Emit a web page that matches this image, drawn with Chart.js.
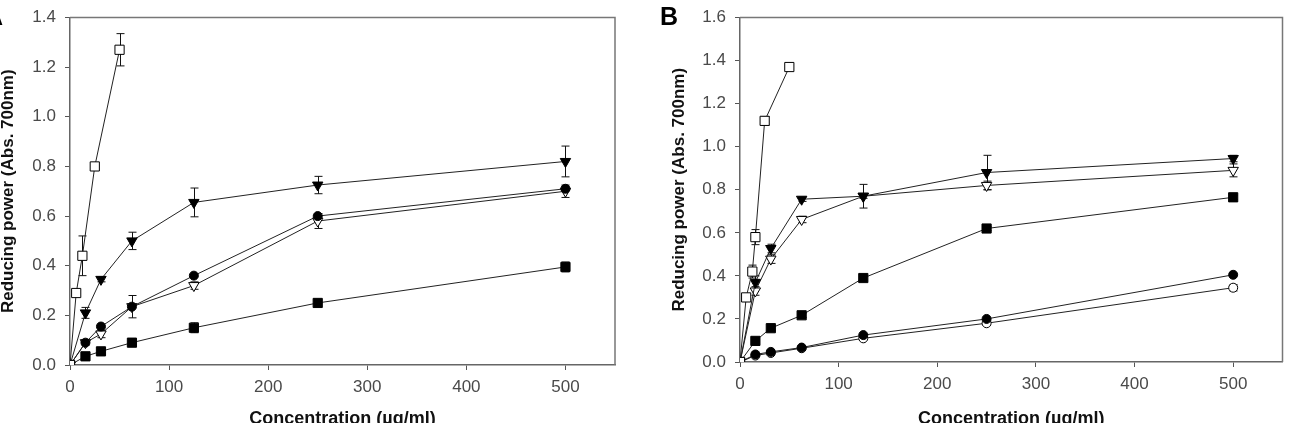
<!DOCTYPE html>
<html lang="en">
<head>
<meta charset="UTF-8">
<title>Reducing power</title>
<script src="https://cdn.jsdelivr.net/npm/chart.js"></script>
<style>
    body {
        margin: 0;
        background: #fff;
        width: 1290px;
        height: 423px;
        overflow: hidden;
        position: relative;
        font-family: "Liberation Sans", Arial, sans-serif;
    }
    .panel {
        position: absolute;
        top: 0;
    }
    .tag {
        position: absolute;
        top: 4px;
        font-size: 25px;
        font-weight: bold;
        line-height: 1;
        color: #000;
    }
</style>
</head>
<body>
<div class="panel" style="left:0"><canvas id="chartA" width="640" height="434"></canvas></div>
<div class="panel" style="left:640px"><canvas id="chartB" width="650" height="434"></canvas></div>
<div class="tag" style="left:-15px">A</div>
<div class="tag" style="left:660px">B</div>

<script>
// concentrations (ug/ml)
const concA = [0, 15.6, 31.25, 62.5, 125, 250, 500];
const concSquareA = [0, 6.25, 12.5, 25, 50];
const concB = [0, 15.6, 31.25, 62.5, 125, 250, 500];
const concSquareB = [0, 6.25, 12.5, 15.6, 25, 50];

// panel A, absorbance at 700nm and SD
const openSquareA = [0, 0.29, 0.44, 0.80, 1.27];
const openSquareErrA = [0, 0, 0.08, 0, 0.065];
const filledTriA = [0, 0.21, 0.345, 0.50, 0.655, 0.725, 0.82];
const filledTriErrA = [0, 0.022, 0.01, 0.035, 0.058, 0.035, 0.062];
const filledCircleA = [0, 0.09, 0.155, 0.235, 0.36, 0.60, 0.71];
const filledCircleErrA = [0, 0, 0, 0, 0, 0, 0];
const openTriA = [0, 0.09, 0.125, 0.235, 0.32, 0.58, 0.70];
const openTriErrA = [0, 0.01, 0.015, 0.045, 0.015, 0.03, 0.025];
const filledSquareA = [0, 0.035, 0.055, 0.09, 0.15, 0.25, 0.395];
const filledSquareErrA = [0, 0, 0, 0, 0.02, 0, 0.02];

// panel B
const openSquareB = [0, 0.30, 0.42, 0.58, 1.12, 1.37];
const openSquareErrB = [0, 0.01, 0.03, 0.035, 0.02, 0.01];
const filledTriB = [0, 0.37, 0.527, 0.756, 0.77, 0.88, 0.945];
const filledTriErrB = [0, 0.03, 0.02, 0.01, 0.01, 0.08, 0.015];
const openTriB = [0, 0.33, 0.478, 0.662, 0.77, 0.82, 0.89];
const openTriErrB = [0, 0.02, 0.02, 0.015, 0.055, 0.02, 0.03];
const filledSquareB = [0, 0.098, 0.157, 0.217, 0.39, 0.62, 0.765];
const filledSquareErrB = [0, 0.01, 0.01, 0.01, 0.01, 0.01, 0.01];
const filledCircleB = [0, 0.035, 0.047, 0.067, 0.125, 0.20, 0.405];
const filledCircleErrB = [0, 0, 0, 0, 0, 0, 0];
const openCircleB = [0, 0.03, 0.042, 0.064, 0.11, 0.18, 0.345];
const openCircleErrB = [0, 0, 0, 0, 0, 0, 0.015];

const FONT = "'Liberation Sans', Arial, sans-serif";

function series(xVals, yVals, errs, shape, filled) {
    const styles = {
        square: { pointStyle: 'rect', radius: 6.5, rotation: 0 },
        tri: { pointStyle: 'triangle', radius: 6, rotation: 180 },
        circle: { pointStyle: 'circle', radius: 4.5, rotation: 0 }
    };
    const s = styles[shape];
    return {
        data: xVals.map((x, i) => ({ x: x, y: yVals[i] })),
        errors: errs,
        borderColor: '#222',
        borderWidth: 1,
        pointStyle: s.pointStyle,
        pointRadius: s.radius,
        pointRotation: s.rotation,
        pointBackgroundColor: filled ? '#000' : '#fff',
        pointBorderColor: '#000',
        pointBorderWidth: 1,
        tension: 0
    };
}

const errorBars = {
    id: 'errorBars',
    beforeDatasetsDraw(chart) {
        const ctx = chart.ctx;
        const xs = chart.scales.x, ys = chart.scales.y;
        ctx.save();
        ctx.strokeStyle = '#111';
        ctx.lineWidth = 1;
        chart.data.datasets.forEach(ds => {
            ds.data.forEach((p, i) => {
                const e = ds.errors[i];
                if (!e) return;
                const px = Math.round(xs.getPixelForValue(p.x)) + 0.5;
                const top = ys.getPixelForValue(p.y + e);
                const bot = ys.getPixelForValue(p.y - e);
                ctx.beginPath();
                ctx.moveTo(px, top); ctx.lineTo(px, bot);
                ctx.moveTo(px - 4, top); ctx.lineTo(px + 4, top);
                ctx.moveTo(px - 4, bot); ctx.lineTo(px + 4, bot);
                ctx.stroke();
            });
        });
        ctx.restore();
    }
};

const frame = {
    id: 'frame',
    afterDraw(chart) {
        const { ctx, chartArea: a } = chart;
        ctx.save();
        ctx.strokeStyle = '#777';
        ctx.lineWidth = 1.5;
        ctx.beginPath();
        ctx.moveTo(a.left, a.top);
        ctx.lineTo(a.right, a.top);
        ctx.lineTo(a.right, a.bottom);
        ctx.stroke();
        ctx.restore();
    }
};

function makeChart(id, datasets, yMax, yWidth, xHeight, pad, yTitlePad) {
    return new Chart(document.getElementById(id), {
        type: 'line',
        data: { datasets },
        plugins: [errorBars, frame],
        options: {
            responsive: false,
            animation: false,
            layout: { padding: pad },
            plugins: { legend: { display: false }, tooltip: { enabled: false } },
            scales: {
                x: {
                    type: 'linear',
                    min: 0,
                    max: 550,
                    afterBuildTicks: s => { s.ticks = s.ticks.filter(t => t.value <= 500 && t.value % 100 === 0); },
                    afterFit: s => { s.height = xHeight; },
                    ticks: { stepSize: 100, color: '#4a4a4a', padding: 9, font: { family: FONT, size: 17, lineHeight: 1 } },
                    grid: { drawOnChartArea: false, tickLength: 5, color: '#555' },
                    border: { color: '#666', width: 1.5 },
                    title: {
                        display: true,
                        text: 'Concentration (µg/ml)',
                        color: '#111',
                        padding: { top: 0, bottom: 4 },
                        font: { family: FONT, size: 18, weight: 'bold' }
                    }
                },
                y: {
                    min: 0,
                    max: yMax,
                    afterFit: s => { s.width = yWidth; },
                    ticks: { stepSize: 0.2, color: '#4a4a4a', padding: 9, callback: v => v.toFixed(1), font: { family: FONT, size: 17, lineHeight: 1 } },
                    grid: { drawOnChartArea: false, tickLength: 5, color: '#555' },
                    border: { color: '#666', width: 1.5 },
                    title: {
                        display: true,
                        text: 'Reducing power (Abs. 700nm)',
                        color: '#111',
                        padding: { top: yTitlePad, bottom: 0 },
                        font: { family: FONT, size: 17, weight: 'bold' }
                    }
                }
            }
        }
    });
}

makeChart('chartA', [
    series(concSquareA, openSquareA, openSquareErrA, 'square', false),
    series(concA, filledTriA, filledTriErrA, 'tri', true),
    series(concA, filledCircleA, filledCircleErrA, 'circle', true),
    series(concA, openTriA, openTriErrA, 'tri', false),
    series(concA, filledSquareA, filledSquareErrA, 'square', true)
], 1.4, 70, 434 - 365, { left: 0, right: 25, top: 8, bottom: 0 }, -2);

makeChart('chartB', [
    series(concSquareB, openSquareB, openSquareErrB, 'square', false),
    series(concB, filledTriB, filledTriErrB, 'tri', true),
    series(concB, openTriB, openTriErrB, 'tri', false),
    series(concB, filledSquareB, filledSquareErrB, 'square', true),
    series(concB, filledCircleB, filledCircleErrB, 'circle', true),
    series(concB, openCircleB, openCircleErrB, 'circle', false)
], 1.6, 100, 434 - 362, { left: 0, right: 5, top: 11, bottom: 0 }, 29);
</script>
</body>
</html>
